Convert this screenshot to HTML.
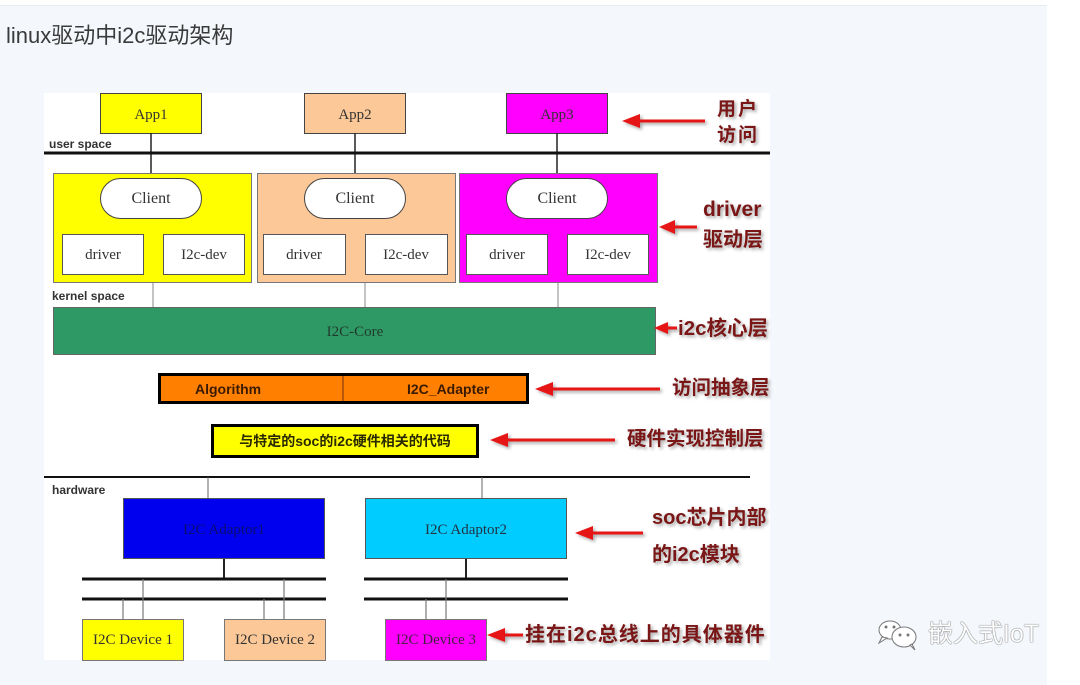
<!DOCTYPE html>
<html><head><meta charset="utf-8">
<style>
html,body{margin:0;padding:0;}
body{width:1080px;height:684px;position:relative;overflow:hidden;background:#fff;font-family:"Liberation Sans","Noto Sans CJK SC",sans-serif;}
#panel{position:absolute;left:0;top:5px;width:1047px;height:679px;background:#f4f8fc;border-top:1px solid #e6ecf2;}
#title{position:absolute;left:6px;top:25px;font-size:22px;line-height:22px;color:#3a3a3a;}
.ann{position:absolute;color:#7a1616;font-weight:bold;font-size:20px;text-shadow:2px 2px 3px rgba(0,0,0,0.35);font-family:"Liberation Sans","Noto Sans CJK SC",sans-serif;white-space:nowrap;line-height:1;}
#wm{position:absolute;left:928px;top:622px;font-size:25px;line-height:1;color:#fff;text-shadow:0 0 1px #555,0 0 1px #555;font-family:"Liberation Sans","Noto Sans CJK SC",sans-serif;}
svg{position:absolute;left:0;top:0;}
</style></head><body>
<div id="panel"></div>
<div id="title">linux驱动中i2c驱动架构</div>
<svg width="1080" height="684" viewBox="0 0 1080 684" xmlns="http://www.w3.org/2000/svg">
<defs>
<filter id="sh" x="-20%" y="-50%" width="140%" height="200%"><feDropShadow dx="2" dy="2" stdDeviation="1.5" flood-color="#000" flood-opacity="0.35"/></filter>
</defs>
<rect x="44" y="93" width="726" height="567" fill="#fff"/>
<g font-family="Liberation Serif, serif" fill="#333" text-anchor="middle">
<rect x="100.5" y="93.5" width="101" height="40" fill="#ffff00" stroke="#444" stroke-width="1"/>
<text x="151" y="119" font-size="15">App1</text>
<rect x="304.5" y="93.5" width="101" height="40" fill="#fcc898" stroke="#444" stroke-width="1"/>
<text x="355" y="119" font-size="15">App2</text>
<rect x="506.5" y="93.5" width="101" height="40" fill="#ff00ff" stroke="#444" stroke-width="1"/>
<text x="557" y="119" font-size="15">App3</text>
<line x1="151" y1="133" x2="151" y2="178" stroke="#222" stroke-width="1.5"/>
<line x1="355" y1="133" x2="355" y2="178" stroke="#222" stroke-width="1.5"/>
<line x1="557" y1="133" x2="557" y2="178" stroke="#222" stroke-width="1.5"/>
<line x1="44" y1="153" x2="770" y2="153" stroke="#111" stroke-width="3"/>
<rect x="53.5" y="173.5" width="198" height="109" fill="#ffff00" stroke="#777" stroke-width="1"/>
<rect x="257.5" y="173.5" width="198" height="109" fill="#fcc898" stroke="#777" stroke-width="1"/>
<rect x="459.5" y="173.5" width="198" height="109" fill="#ff00ff" stroke="#777" stroke-width="1"/>
<rect x="100.5" y="178.5" width="101" height="40" rx="20" fill="#fff" stroke="#444"/>
<rect x="304.5" y="178.5" width="101" height="40" rx="20" fill="#fff" stroke="#444"/>
<rect x="506.5" y="178.5" width="101" height="40" rx="20" fill="#fff" stroke="#444"/>
<text x="151" y="203" font-size="16">Client</text>
<text x="355" y="203" font-size="16">Client</text>
<text x="557" y="203" font-size="16">Client</text>
<rect x="62.5" y="234.5" width="81" height="40" fill="#fff" stroke="#555"/>
<rect x="163.5" y="234.5" width="81" height="40" fill="#fff" stroke="#555"/>
<rect x="263.5" y="234.5" width="82" height="40" fill="#fff" stroke="#555"/>
<rect x="365.5" y="234.5" width="82" height="40" fill="#fff" stroke="#555"/>
<rect x="466.5" y="234.5" width="81" height="40" fill="#fff" stroke="#555"/>
<rect x="567.5" y="234.5" width="81" height="40" fill="#fff" stroke="#555"/>
<text x="103" y="259" font-size="15">driver</text>
<text x="204" y="259" font-size="15">I2c-dev</text>
<text x="304" y="259" font-size="15">driver</text>
<text x="406" y="259" font-size="15">I2c-dev</text>
<text x="507" y="259" font-size="15">driver</text>
<text x="608" y="259" font-size="15">I2c-dev</text>
<line x1="153" y1="283" x2="153" y2="307" stroke="#888" stroke-width="1"/>
<line x1="365" y1="283" x2="365" y2="307" stroke="#888" stroke-width="1"/>
<line x1="558" y1="283" x2="558" y2="307" stroke="#888" stroke-width="1"/>
<rect x="53.5" y="307.5" width="602" height="47" fill="#2f9966" stroke="#666"/>
<text x="355" y="336" font-size="15" fill="#1f3a2a">I2C-Core</text>
<line x1="343" y1="355" x2="343" y2="477" stroke="#5a1020" stroke-width="3" filter="url(#sh)"/>
<rect x="159.5" y="374.5" width="368" height="28" fill="#ff8000" stroke="#000" stroke-width="3"/>
<line x1="343" y1="376" x2="343" y2="401" stroke="#a04a10" stroke-width="1.5"/>
<rect x="212.5" y="425.5" width="265" height="31" fill="#ffff00" stroke="#000" stroke-width="3"/>
<line x1="44" y1="477" x2="750" y2="477" stroke="#111" stroke-width="2"/>
<line x1="208" y1="477" x2="208" y2="498" stroke="#666" stroke-width="1"/>
<line x1="482" y1="477" x2="482" y2="498" stroke="#666" stroke-width="1"/>
<rect x="123.5" y="498.5" width="201" height="60" fill="#0000ee" stroke="#555"/>
<text x="224" y="534" font-size="15" fill="#0c0c70">I2C Adaptor1</text>
<rect x="365.5" y="498.5" width="201" height="60" fill="#00ccff" stroke="#555"/>
<text x="466" y="534" font-size="15" fill="#223344">I2C Adaptor2</text>
<line x1="224" y1="559" x2="224" y2="579" stroke="#222" stroke-width="2"/>
<line x1="466" y1="559" x2="466" y2="579" stroke="#222" stroke-width="2"/>
<line x1="82" y1="579" x2="326" y2="579" stroke="#111" stroke-width="3"/>
<line x1="82" y1="599" x2="326" y2="599" stroke="#111" stroke-width="3"/>
<line x1="364" y1="579" x2="568" y2="579" stroke="#111" stroke-width="3"/>
<line x1="364" y1="599" x2="568" y2="599" stroke="#111" stroke-width="3"/>
<g stroke="#777" stroke-width="1.2">
<line x1="123" y1="599" x2="123" y2="619"/>
<line x1="143" y1="579" x2="143" y2="619"/>
<line x1="264" y1="599" x2="264" y2="619"/>
<line x1="284" y1="579" x2="284" y2="619"/>
<line x1="426" y1="599" x2="426" y2="619"/>
<line x1="446" y1="579" x2="446" y2="619"/>
</g>
<rect x="82.5" y="619.5" width="101" height="41" fill="#ffff00" stroke="#777"/>
<rect x="224.5" y="619.5" width="101" height="41" fill="#fcc898" stroke="#777"/>
<rect x="385.5" y="619.5" width="101" height="41" fill="#ff00ff" stroke="#777"/>
<text x="133" y="644" font-size="15">I2C Device 1</text>
<text x="275" y="644" font-size="15">I2C Device 2</text>
<text x="436" y="644" font-size="15" fill="#442244">I2C Device 3</text>
</g>
<g font-family="Liberation Sans, Noto Sans CJK SC, sans-serif" font-weight="bold">
<text x="49" y="148" font-size="12" fill="#333">user space</text>
<text x="52" y="300" font-size="12" fill="#333">kernel space</text>
<text x="52" y="494" font-size="12" fill="#333">hardware</text>
<text x="195" y="394" font-size="14" fill="#3a1a00">Algorithm</text>
<text x="407" y="394" font-size="14" fill="#3a1a00">I2C_Adapter</text>
<text x="345" y="446" font-size="14" fill="#2a2a00" text-anchor="middle">与特定的soc的i2c硬件相关的代码</text>
</g>
<g fill="#e61414" stroke="#e61414" filter="url(#sh)">
<line x1="705" y1="121" x2="635" y2="121" stroke-width="3"/><polygon points="622,121 640,114 640,128" stroke="none"/>
<line x1="697" y1="227" x2="670" y2="227" stroke-width="3"/><polygon points="659,227 675,220 675,234" stroke="none"/>
<line x1="677" y1="328" x2="665" y2="328" stroke-width="3"/><polygon points="654,328 668,322 668,334" stroke="none"/>
<line x1="660" y1="389" x2="548" y2="389" stroke-width="3"/><polygon points="535,389 553,382 553,396" stroke="none"/>
<line x1="615" y1="440" x2="503" y2="440" stroke-width="3"/><polygon points="490,440 508,433 508,447" stroke="none"/>
<line x1="643" y1="533" x2="588" y2="533" stroke-width="3"/><polygon points="575,533 593,526 593,540" stroke="none"/>
<line x1="523" y1="635" x2="500" y2="635" stroke-width="3"/><polygon points="487,635 505,628 505,642" stroke="none"/>
</g>
<g fill="#fff" stroke="#777" stroke-width="1">
<ellipse cx="890" cy="630" rx="11" ry="9"/>
<path d="M882 637 L879 643 L887 638 Z"/>
<ellipse cx="904" cy="637" rx="12" ry="10"/>
<path d="M910 645 L915 650 L912 644 Z"/>
<circle cx="886" cy="627" r="1" fill="#777"/><circle cx="894" cy="627" r="1" fill="#777"/>
<circle cx="900" cy="635" r="1" fill="#777"/><circle cx="908" cy="635" r="1" fill="#777"/>
</g>
</svg>
<div class="ann" style="left:717px;top:100px;font-size:19px;letter-spacing:2px;">用户</div>
<div class="ann" style="left:717px;top:126px;font-size:19px;letter-spacing:2px;">访问</div>
<div class="ann" style="left:703px;top:199px;font-size:21px;">driver</div>
<div class="ann" style="left:703px;top:230px;">驱动层</div>
<div class="ann" style="left:678px;top:319px;font-size:20.5px;">i2c核心层</div>
<div class="ann" style="left:672px;top:379px;font-size:19.5px;">访问抽象层</div>
<div class="ann" style="left:627px;top:430px;font-size:19.5px;">硬件实现控制层</div>
<div class="ann" style="left:652px;top:508px;">soc芯片内部</div>
<div class="ann" style="left:652px;top:545px;">的i2c模块</div>
<div class="ann" style="left:525px;top:625px;letter-spacing:1px;">挂在i2c总线上的具体器件</div>
<div id="wm">嵌入式IoT</div>
</body></html>
